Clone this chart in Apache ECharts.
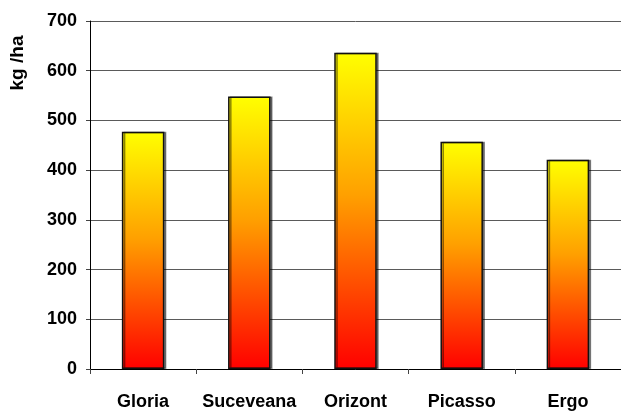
<!DOCTYPE html>
<html>
<head>
<meta charset="utf-8">
<script src="https://cdn.jsdelivr.net/npm/echarts@6/dist/echarts.min.js"></script>
<style>
	html, body { margin: 0; padding: 0; background: #fff; }
	#chart_1 { width: 621px; height: 412px; }
</style>
</head>
<body>
<div id="chart_1"></div>
<script>
// data
var categories = ['Gloria', 'Suceveana', 'Orizont', 'Picasso', 'Ergo'];
var yields = [477, 548, 636, 457, 421];
var yTicks = [0, 100, 200, 300, 400, 500, 600, 700];

var font = '"Liberation Sans", Arial, sans-serif';

function makeChart() {
	var myChart = echarts.init(document.getElementById('chart_1'));
	var option = {
		backgroundColor: '#fff',
		animation: false,
		grid: {
			left: 90,
			top: 21,
			width: 538,
			bottom: 43
		},
		graphic: [{
			type: 'text',
			x: 18,
			y: 63,
			rotation: Math.PI / 2,
			style: {
				text: 'kg /ha',
				font: 'bold 19px ' + font,
				fill: '#000',
				align: 'center',
				verticalAlign: 'middle'
			}
		}],
		xAxis: {
			type: 'category',
			data: categories,
			axisLine: { lineStyle: { color: '#000', width: 1 } },
			axisTick: { show: true, interval: 0, length: 5, lineStyle: { color: '#444' } },
			axisLabel: {
				interval: 0,
				margin: 24,
				color: '#000',
				fontWeight: 'bold',
				fontSize: 18,
				fontFamily: font
			}
		},
		yAxis: {
			type: 'value',
			min: yTicks[0],
			max: yTicks[yTicks.length - 1],
			interval: 100,
			axisLine: { show: true, lineStyle: { color: '#000', width: 1 } },
			axisTick: { show: true, length: 4, lineStyle: { color: '#444' } },
			splitLine: { show: true, lineStyle: { color: '#5a5a5a', width: 1 } },
			axisLabel: {
				margin: 13,
				color: '#000',
				fontWeight: 'bold',
				fontSize: 18,
				fontFamily: font
			}
		},
		series: [{
			type: 'bar',
			data: yields,
			barWidth: '40%',
			itemStyle: {
				color: new echarts.graphic.LinearGradient(0, 0, 0, 1, [
					{ offset: 0, color: '#ffff00' },
					{ offset: 0.45, color: '#ffa000' },
					{ offset: 1, color: '#ff0000' }
				]),
				borderColor: '#111',
				borderWidth: 1.5,
				shadowColor: 'rgba(0,0,0,0.45)',
				shadowOffsetX: 2,
				shadowOffsetY: 0
			}
		}]
	};
	myChart.setOption(option);
}
makeChart();
</script>
</body>
</html>
